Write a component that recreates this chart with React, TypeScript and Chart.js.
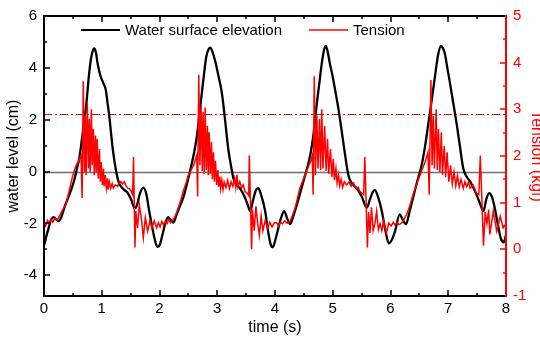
import React, { useEffect, useRef } from "react";
import { Chart, registerables } from "chart.js";

Chart.register(...registerables);

// ---- data -----------------------------------------------------------------
const waterTime = [
  0.0, 0.04, 0.08, 0.12, 0.17, 0.21, 0.25, 0.3, 0.36, 0.42, 0.48, 0.53, 0.57, 0.61, 0.65, 0.69, 0.73, 0.78, 0.81, 0.84,
  0.87, 0.9, 0.93, 0.98, 1.03, 1.07, 1.1, 1.13, 1.19, 1.25, 1.3, 1.36, 1.45, 1.51, 1.57, 1.61, 1.66, 1.72, 1.77, 1.82,
  1.87, 1.91, 1.96,
  2.0, 2.05, 2.1, 2.15, 2.19, 2.24, 2.29, 2.35, 2.41, 2.5, 2.59, 2.65, 2.7, 2.76, 2.81, 2.85, 2.88, 2.92, 2.96, 3.02,
  3.08, 3.14, 3.19, 3.24, 3.28, 3.33, 3.39, 3.47, 3.53, 3.57, 3.62, 3.67, 3.71, 3.76, 3.83, 3.88, 3.93, 3.96,
  4.01, 4.06, 4.11, 4.16, 4.21, 4.26, 4.32, 4.38, 4.49, 4.61, 4.67, 4.72, 4.77, 4.81, 4.85, 4.88, 4.91, 4.95, 5.0,
  5.04, 5.1, 5.15, 5.21, 5.27, 5.33, 5.41, 5.5, 5.59, 5.64, 5.69, 5.73, 5.78, 5.85, 5.91, 5.97,
  6.03, 6.08, 6.16, 6.21, 6.27, 6.33, 6.39, 6.46, 6.54, 6.6, 6.65, 6.71, 6.77, 6.82, 6.87, 6.91, 6.94, 6.98, 7.03,
  7.09, 7.15, 7.21, 7.26, 7.32, 7.38, 7.49, 7.56, 7.61, 7.66, 7.71, 7.76, 7.81, 7.86, 7.91, 7.96, 8.0,
];
const waterLevel = [
  -2.86, -2.5, -2.18, -1.88, -1.76, -1.84, -1.91, -1.75, -1.34, -1.0, -0.64, -0.28, 0.12, 0.5, 1.13, 1.85, 2.55, 3.75, 4.3, 4.62,
  4.75, 4.58, 4.15, 3.67, 3.4, 3.15, 2.65, 2.15, 0.88, 0.0, -0.45, -0.64, -0.83, -1.08, -1.42, -1.3, -0.85, -0.62, -0.85, -1.5,
  -2.1, -2.54, -2.9,
  -2.85, -2.45, -2.0, -1.76, -1.85, -1.97, -1.7, -1.35, -1.02, -0.25, 0.63, 1.4, 2.4, 3.55, 4.43, 4.72, 4.78, 4.6, 4.3, 3.7,
  3.03, 1.9, 0.88, 0.2, -0.26, -0.5, -0.64, -0.95, -1.3, -1.53, -1.1, -0.72, -0.64, -0.9, -1.53, -2.3, -2.85, -2.92,
  -2.6, -2.16, -1.75, -1.53, -1.8, -2.03, -1.7, -1.27, -0.39, 0.63, 1.5, 2.53, 3.45, 4.17, 4.7, 4.85, 4.65, 4.17, 3.65,
  3.16, 2.4, 1.64, 0.7, -0.13, -0.45, -0.64, -0.95, -1.4, -1.1, -0.8, -0.72, -0.95, -1.53, -2.25, -2.77,
  -2.6, -2.29, -1.65, -1.85, -2.03, -1.55, -1.02, -0.4, 0.25, 1.0, 1.77, 2.7, 3.67, 4.45, 4.85, 4.75, 4.56, 4.05, 3.41,
  2.6, 1.77, 0.85, 0.12, -0.2, -0.39, -0.89, -1.3, -1.53, -1.05, -0.83, -1.0, -1.45, -2.05, -2.58, -2.73, -2.45,
];

const tensionTime = [
  0.0, 0.03, 0.06, 0.09, 0.12, 0.15, 0.19, 0.23, 0.27, 0.32, 0.38, 0.44, 0.5, 0.55, 0.6, 0.64, 0.66, 0.68, 0.7, 0.715,
  0.73, 0.75, 0.77, 0.785, 0.8, 0.82, 0.835, 0.855, 0.87, 0.89, 0.905, 0.92, 0.94, 0.96, 0.975, 0.99, 1.01, 1.03, 1.04, 1.06,
  1.08, 1.1, 1.11, 1.13, 1.155, 1.18, 1.2, 1.235, 1.275, 1.3, 1.33, 1.36, 1.39, 1.42, 1.45, 1.48, 1.51, 1.535, 1.55, 1.575,
  1.59, 1.62, 1.65, 1.685, 1.72, 1.755, 1.795, 1.835, 1.87, 1.91, 1.95, 1.98, 2.01,
  2.04, 2.07, 2.1, 2.13, 2.16, 2.19, 2.22, 2.26, 2.3, 2.35, 2.41, 2.46, 2.5, 2.55, 2.59, 2.645, 2.66, 2.68, 2.7, 2.72,
  2.74, 2.755, 2.775, 2.79, 2.81, 2.83, 2.845, 2.86, 2.88, 2.9, 2.915, 2.935, 2.95, 2.97, 2.99, 3.01, 3.025, 3.045, 3.06, 3.08,
  3.1, 3.12, 3.15, 3.18, 3.21, 3.24, 3.27, 3.3, 3.32, 3.34, 3.36, 3.39, 3.42, 3.45, 3.48, 3.52, 3.545, 3.555, 3.595, 3.61,
  3.64, 3.67, 3.7, 3.73, 3.76, 3.79, 3.83, 3.87, 3.91, 3.95, 3.99,
  4.03, 4.06, 4.09, 4.13, 4.17, 4.21, 4.26, 4.3, 4.35, 4.43, 4.52, 4.58, 4.62, 4.645, 4.66, 4.68, 4.7, 4.725, 4.745, 4.77,
  4.79, 4.81, 4.83, 4.86, 4.885, 4.91, 4.93, 4.96, 4.985, 5.01, 5.03, 5.055, 5.075, 5.1, 5.12, 5.145, 5.17, 5.2, 5.24, 5.28,
  5.32, 5.36, 5.4, 5.44, 5.47, 5.51, 5.535, 5.555, 5.6, 5.62, 5.645, 5.67, 5.7, 5.73, 5.76, 5.79, 5.82, 5.85, 5.88, 5.93,
  5.97, 6.01,
  6.05, 6.08, 6.11, 6.15, 6.19, 6.23, 6.28, 6.33, 6.39, 6.45, 6.51, 6.56, 6.6, 6.65, 6.67, 6.7, 6.72, 6.74, 6.76, 6.79,
  6.81, 6.83, 6.855, 6.88, 6.9, 6.93, 6.955, 6.98, 7.01, 7.04, 7.07, 7.1, 7.13, 7.16, 7.19, 7.22, 7.26, 7.29, 7.32, 7.35,
  7.38, 7.43, 7.49, 7.53, 7.555, 7.61, 7.64, 7.67, 7.7, 7.72, 7.78, 7.84, 7.9, 7.95, 8.0,
];
const tensionValue = [
  0.57, 0.5, 0.62, 0.55, 0.64, 0.58, 0.66, 0.63, 0.72, 0.84, 0.96, 1.28, 1.59, 1.78, 1.9, 2.01, 1.1, 3.6, 1.66, 2.86,
  1.59, 3.14, 1.73, 2.79, 1.66, 3.0, 1.8, 2.58, 1.59, 2.44, 1.66, 2.37, 1.52, 2.15, 1.45, 1.87, 1.38, 1.73, 1.35, 1.59,
  1.31, 1.52, 1.28, 1.45, 1.31, 1.41, 1.31, 1.38, 1.35, 1.42, 1.45, 1.4, 1.45, 1.36, 1.31, 1.3, 1.24, 1.17, 1.98, 0.04,
  0.82, 0.46, 0.96, 0.68, 0.25, 0.68, 0.39, 0.61, 0.46, 0.61, 0.46, 0.57, 0.48,
  0.6, 0.52, 0.61, 0.55, 0.64, 0.57, 0.62, 0.68, 0.8, 0.98, 1.24, 1.42, 1.59, 1.7, 1.8, 2.01, 1.13, 3.74, 1.8, 3.07,
  1.68, 2.95, 1.62, 3.04, 1.7, 2.65, 1.59, 2.51, 1.62, 2.3, 1.5, 2.08, 1.45, 1.9, 1.38, 1.7, 1.34, 1.56, 1.3, 1.48,
  1.28, 1.44, 1.32, 1.48, 1.3, 1.45, 1.35, 1.52, 1.33, 1.6, 1.34, 1.45, 1.32, 1.38, 1.24, 1.2, 1.15, 2.01, 0.0, 0.85,
  0.4, 0.92, 0.55, 0.3, 0.72, 0.4, 0.62, 0.45, 0.58, 0.48, 0.57,
  0.57, 0.5, 0.58, 0.55, 0.61, 0.56, 0.6, 0.72, 0.89, 1.31, 1.59, 1.78, 1.9, 2.01, 1.17, 3.71, 1.59, 2.86, 1.73, 2.79,
  1.7, 3.0, 1.73, 2.65, 1.68, 2.37, 1.62, 2.15, 1.55, 1.94, 1.48, 1.73, 1.42, 1.6, 1.36, 1.5, 1.33, 1.45, 1.38, 1.44,
  1.35, 1.42, 1.3, 1.33, 1.24, 1.2, 1.17, 1.98, 0.04, 0.8, 0.35, 0.9, 0.4, 0.55, 0.82, 0.42, 0.55, 0.4, 0.61, 0.36,
  0.56, 0.5,
  0.58, 0.52, 0.57, 0.53, 0.56, 0.63, 0.75, 0.92, 1.17, 1.38, 1.59, 1.75, 1.87, 2.08, 1.17, 3.63, 1.8, 2.86, 1.73, 3.0,
  1.7, 2.58, 1.65, 2.51, 1.6, 2.22, 1.55, 2.08, 1.45, 1.8, 1.4, 1.66, 1.36, 1.58, 1.34, 1.5, 1.31, 1.45, 1.34, 1.44,
  1.31, 1.38, 1.2, 1.17, 2.01, 0.08, 0.8, 0.55, 0.85, 0.32, 0.82, 0.39, 0.71, 0.46, 0.55,
];

const xMajorTicks = [0, 1, 2, 3, 4, 5, 6, 7, 8];
const xMinorTicks = [0.5, 1.5, 2.5, 3.5, 4.5, 5.5, 6.5, 7.5];
const leftMajorTicks = [-4, -2, 0, 2, 4, 6];
const leftMinorTicks = [-3, -1, 1, 3, 5];
const rightMajorTicks = [-1, 0, 1, 2, 3, 4, 5];
const rightMinorTicks = [-0.5, 0.5, 1.5, 2.5, 3.5, 4.5];
const thresholdTension = 2.9;
const referenceLevel = 0;
const legendLabels = ["Water surface elevation", "Tension"];

const FONT = "'Liberation Sans', Arial, sans-serif";
const RED = "#ff0000";
const BLACK = "#000000";

export default function App() {
  const ref = useRef<HTMLCanvasElement>(null);

  useEffect(() => {
    document.body.style.margin = "0";
    const canvas = ref.current!;

    const framePlugin = {
      id: "framePlugin",
      beforeDatasetsDraw(chart: any) {
        const { ctx, chartArea: a, scales } = chart;
        ctx.save();
        const y0 = Math.round(scales.y.getPixelForValue(referenceLevel)) + 0.5;
        ctx.strokeStyle = "#6e6e6e";
        ctx.lineWidth = 1.5;
        ctx.beginPath();
        ctx.moveTo(a.left, y0);
        ctx.lineTo(a.right, y0);
        ctx.stroke();
        const yt = Math.round(scales.y2.getPixelForValue(thresholdTension)) + 0.5;
        ctx.strokeStyle = RED;
        ctx.lineWidth = 1;
        ctx.setLineDash([8, 3, 2, 3]);
        ctx.beginPath();
        ctx.moveTo(a.left, yt);
        ctx.lineTo(a.right, yt);
        ctx.stroke();
        ctx.restore();
      },
      afterDraw(chart: any) {
        const { ctx, chartArea: a, scales } = chart;
        ctx.save();
        const tick = (color: string, pts: number[], len: number, fn: (v: number, l: number) => void) => {
          ctx.strokeStyle = color;
          ctx.lineWidth = 1.5;
          pts.forEach((v) => fn(v, len));
        };
        const xTick = (v: number, l: number) => {
          const x = Math.round(scales.x.getPixelForValue(v));
          ctx.beginPath();
          ctx.moveTo(x, a.bottom);
          ctx.lineTo(x, a.bottom - l);
          ctx.moveTo(x, a.top);
          ctx.lineTo(x, a.top + l);
          ctx.stroke();
        };
        tick(BLACK, xMajorTicks, 6, xTick);
        tick(BLACK, xMinorTicks, 3, xTick);
        const yTick = (v: number, l: number) => {
          const y = Math.round(scales.y.getPixelForValue(v));
          ctx.beginPath();
          ctx.moveTo(a.left, y);
          ctx.lineTo(a.left + l, y);
          ctx.stroke();
        };
        tick(BLACK, leftMajorTicks, 6, yTick);
        tick(BLACK, leftMinorTicks, 3, yTick);
        const y2Tick = (v: number, l: number) => {
          const y = Math.round(scales.y2.getPixelForValue(v));
          ctx.beginPath();
          ctx.moveTo(a.right, y);
          ctx.lineTo(a.right - l, y);
          ctx.stroke();
        };
        tick(RED, rightMajorTicks, 6, y2Tick);
        tick(RED, rightMinorTicks, 3, y2Tick);

        // frame
        ctx.lineWidth = 2;
        ctx.strokeStyle = BLACK;
        ctx.beginPath();
        ctx.moveTo(a.right, a.top);
        ctx.lineTo(a.left, a.top);
        ctx.lineTo(a.left, a.bottom);
        ctx.lineTo(a.right, a.bottom);
        ctx.stroke();
        ctx.strokeStyle = RED;
        ctx.beginPath();
        ctx.moveTo(a.right, a.top - 1);
        ctx.lineTo(a.right, a.bottom + 1);
        ctx.stroke();

        // legend
        const ly = 30;
        ctx.font = `15px ${FONT}`;
        ctx.textBaseline = "middle";
        ctx.textAlign = "left";
        ctx.strokeStyle = BLACK;
        ctx.lineWidth = 2;
        ctx.beginPath();
        ctx.moveTo(81, ly);
        ctx.lineTo(120, ly);
        ctx.stroke();
        ctx.fillStyle = BLACK;
        ctx.fillText(legendLabels[0], 125, ly + 1);
        ctx.strokeStyle = RED;
        ctx.lineWidth = 1.5;
        ctx.beginPath();
        ctx.moveTo(309, ly);
        ctx.lineTo(348, ly);
        ctx.stroke();
        ctx.fillText(legendLabels[1], 353, ly + 1);
        ctx.restore();
      },
    };

    const chart = new Chart(canvas, {
      type: "line",
      data: {
        datasets: [
          {
            label: legendLabels[0],
            data: waterTime.map((t, i) => ({ x: t, y: waterLevel[i] })),
            borderColor: BLACK,
            borderWidth: 2.3,
            pointRadius: 0,
            cubicInterpolationMode: "monotone",
            yAxisID: "y",
            order: 2,
          },
          {
            label: legendLabels[1],
            data: tensionTime.map((t, i) => ({ x: t, y: tensionValue[i] })),
            borderColor: RED,
            borderWidth: 1.5,
            pointRadius: 0,
            tension: 0,
            yAxisID: "y2",
            order: 1,
          },
        ],
      },
      options: {
        animation: false,
        responsive: false,
        maintainAspectRatio: false,
        devicePixelRatio: 1,
        layout: { padding: { top: 12, left: 0, right: 0, bottom: 0 } },
        plugins: { legend: { display: false }, tooltip: { enabled: false } },
        scales: {
          x: {
            type: "linear",
            position: "bottom",
            min: 0,
            max: 8,
            afterBuildTicks: (s: any) => {
              s.ticks = xMajorTicks.map((v) => ({ value: v }));
            },
            afterFit: (s: any) => {
              s.height = 45;
            },
            grid: { display: false, drawTicks: false },
            border: { display: false },
            ticks: { color: BLACK, font: { family: FONT, size: 15 }, padding: 4, maxRotation: 0, autoSkip: false },
            title: {
              display: true,
              text: "time (s)",
              color: BLACK,
              font: { family: FONT, size: 16 },
              padding: { top: 0, bottom: 3.5 },
            },
          },
          y: {
            type: "linear",
            position: "left",
            min: -4.8,
            max: 6,
            afterBuildTicks: (s: any) => {
              s.ticks = leftMajorTicks.map((v) => ({ value: v }));
            },
            afterFit: (s: any) => {
              s.width = 44;
            },
            grid: { display: false, drawTicks: false },
            border: { display: false },
            ticks: { color: BLACK, font: { family: FONT, size: 15 }, padding: 7 },
            title: {
              display: true,
              text: "water level (cm)",
              color: BLACK,
              font: { family: FONT, size: 16 },
              padding: { top: 4.4, bottom: 0 },
            },
          },
          y2: {
            type: "linear",
            position: "right",
            min: -1,
            max: 5,
            afterBuildTicks: (s: any) => {
              s.ticks = rightMajorTicks.map((v) => ({ value: v }));
            },
            afterFit: (s: any) => {
              s.width = 50;
            },
            grid: { display: false, drawTicks: false },
            border: { display: false },
            ticks: { color: RED, font: { family: FONT, size: 15 }, padding: 7 },
            title: {
              display: true,
              text: "Tension (kgf)",
              color: RED,
              font: { family: FONT, size: 16 },
              padding: { top: 10.4, bottom: 0 },
            },
          },
        },
      } as any,
      plugins: [framePlugin],
    });

    return () => chart.destroy();
  }, []);

  return (
    <div style={{ width: 540, height: 341, overflow: "hidden", position: "relative" }}>
      <canvas ref={ref} width={556} height={341} style={{ display: "block" }} />
    </div>
  );
}
